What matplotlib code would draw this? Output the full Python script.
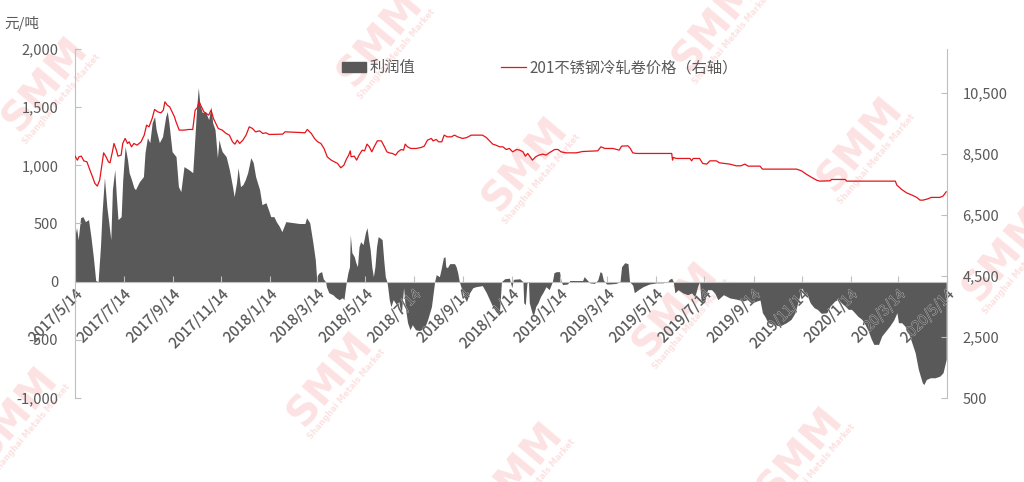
import matplotlib
matplotlib.use("Agg")
import matplotlib.pyplot as plt
import matplotlib.patches as mpatches
import matplotlib.lines as mlines
import matplotlib.patheffects as pe
import pandas as pd

plt.rcParams["font.family"] = ["Noto Sans CJK SC", "DejaVu Sans"]
plt.rcParams["axes.unicode_minus"] = False

# ── 数据（从图上读取，天数 = 距 2017/5/14 的天数）─────────────────────────
START = pd.Timestamp("2017-05-14")

profit_days = [
    0, 2, 4, 7, 10, 13, 17, 20, 23, 26, 29, 32, 34, 37, 40, 42, 45, 47, 50, 52,
    54, 58, 60, 63, 66, 68, 71, 74, 76, 81, 86, 88, 91, 94, 97, 100, 102, 106, 110, 114,
    116, 118, 122, 127, 130, 133, 137, 143, 148, 150, 153, 155, 157, 160, 164, 168, 171, 173, 176, 179,
    181, 183, 185, 190, 194, 198, 200, 203, 205, 208, 211, 214, 217, 221, 224, 227, 232, 235, 240, 244,
    246, 250, 253, 257, 260, 265, 282, 289, 291, 295, 299, 302, 304, 305, 307, 310, 312, 315, 316, 319,
    324, 328, 332, 336, 338, 341, 343, 345, 346, 348, 351, 353, 355, 357, 359, 362, 365, 367, 369, 371,
    373, 375, 377, 379, 381, 383, 386, 388, 390, 392, 393, 395, 397, 400, 404, 407, 410, 413, 415, 418,
    421, 424, 428, 433, 439, 443, 448, 452, 454, 458, 460, 463, 465, 466, 468, 471, 477, 479, 481, 483,
    485, 489, 492, 496, 500, 504, 512, 517, 521, 525, 529, 533, 534, 536, 540, 546, 549, 551, 559, 563,
    564, 566, 568, 570, 571, 574, 576, 579, 582, 585, 588, 592, 596, 600, 602, 605, 609, 611, 613, 619,
    622, 638, 640, 643, 647, 653, 657, 660, 662, 664, 668, 672, 680, 685, 687, 691, 695, 697, 701, 703,
    708, 714, 722, 731, 739, 745, 747, 750, 752, 754, 758, 764, 770, 775, 779, 783, 785, 787, 791, 795,
    800, 804, 808, 815, 823, 831, 840, 846, 852, 857, 861, 864, 867, 871, 877, 886, 894, 900, 905, 909,
    912, 914, 917, 919, 924, 929, 933, 938, 945, 949, 955, 959, 963, 968, 972, 976, 980, 984, 989, 993,
    997, 1001, 1004, 1010, 1014, 1019, 1024, 1029, 1033, 1035, 1039, 1043, 1049, 1056, 1060, 1065, 1067, 1070, 1075, 1081,
    1087, 1091, 1095,
]
profit_vals = [
    400, 464, 361, 550, 559, 516, 533, 387, 215, 10, 0, 301, 593, 894, 645, 533, 361, 791, 963, 731,
    533, 559, 877, 1161, 1049, 937, 877, 808, 791, 860, 903, 1109, 1238, 1195, 1367, 1419, 1307, 1195, 1247, 1419,
    1462, 1367, 1118, 1075, 817, 774, 989, 963, 937, 1161, 1505, 1668, 1522, 1453, 1462, 1393, 1505, 1367, 1307, 1066,
    1221, 1161, 1118, 1075, 963, 817, 731, 851, 980, 817, 834, 877, 937, 1066, 1023, 903, 791, 662, 679, 602,
    559, 559, 516, 473, 430, 516, 500, 500, 550, 507, 335, 189, 0, 60, 77, 86, 25, 0, -43, -95,
    -112, -138, -155, -138, -155, 0, 77, 129, 404, 249, 215, 163, 129, 301, 344, 318, 421, 464, 361, 275,
    129, 43, 129, 301, 387, 378, 361, 189, 43, 0, -43, -155, -215, -155, -198, -172, -284, -52, -215, -353,
    -413, -370, -413, -420, -400, -330, -215, 0, 60, 43, 103, 206, 215, 129, 120, 155, 155, 129, 77, 0,
    -43, -129, -172, -95, -52, -43, -34, -95, -155, -215, -258, -284, -215, 0, 25, 30, -52, 20, 25, 0,
    -181, -198, -12, 0, -181, -258, -301, -215, -181, -129, -95, -43, -69, 0, 77, 86, 86, 0, -25, -20,
    10, 10, 43, 20, -10, -15, 15, 86, 77, 15, -20, -20, -15, 0, 129, 163, 155, 0, -30, -95,
    -69, -43, -20, -10, -10, 0, 20, 30, 0, -97, -69, -97, -112, -97, -129, -30, 0, -172, -181, -69,
    -69, -97, -155, -112, -140, -150, -166, -152, -181, -166, -158, -267, -298, -353, -367, -381, -353, -324, -267, -166,
    -95, -52, -123, -95, -181, -224, -238, -272, -267, -210, -166, -152, -181, -210, -238, -238, -267, -298, -324, -367,
    -424, -496, -539, -539, -467, -424, -381, -330, -267, -353, -353, -381, -467, -611, -754, -869, -884, -841, -826, -826,
    -812, -783, -668,
]

price_days = [
    0, 3, 5, 8, 11, 15, 18, 22, 25, 28, 31, 34, 36, 39, 42, 44, 47, 49, 52, 54,
    58, 60, 63, 66, 68, 71, 74, 78, 83, 87, 90, 93, 97, 100, 104, 108, 111, 113, 116, 119,
    122, 125, 127, 131, 137, 143, 148, 151, 154, 156, 159, 162, 168, 171, 174, 177, 180, 185, 190, 194,
    198, 201, 204, 207, 211, 215, 219, 223, 227, 232, 236, 240, 244, 261, 264, 282, 289, 292, 297, 301,
    305, 309, 313, 317, 322, 326, 330, 334, 338, 341, 344, 346, 347, 351, 354, 357, 361, 364, 367, 370,
    373, 376, 380, 385, 389, 392, 395, 399, 403, 406, 410, 413, 415, 418, 422, 429, 435, 439, 443, 448,
    450, 454, 457, 461, 464, 468, 473, 477, 481, 487, 492, 498, 512, 517, 521, 525, 529, 534, 538, 542,
    546, 550, 555, 559, 563, 566, 569, 572, 575, 579, 583, 588, 592, 596, 603, 607, 611, 617, 630, 638,
    657, 661, 666, 676, 684, 687, 695, 698, 701, 706, 750, 751, 752, 756, 773, 775, 777, 785, 789, 794,
    798, 806, 810, 823, 831, 837, 842, 846, 861, 864, 907, 913, 919, 926, 932, 936, 949, 951, 968, 970,
    1031, 1033, 1039, 1045, 1052, 1058, 1062, 1066, 1072, 1076, 1087, 1091, 1095,
]
price_vals = [
    8435, 8304, 8413, 8435, 8281, 8248, 8032, 7757, 7540, 7452, 7648, 8195, 8543, 8413, 8248, 8216, 8576, 8851, 8632, 8435,
    8468, 8851, 9016, 8851, 8905, 8740, 8851, 8796, 8905, 9124, 9452, 9396, 9671, 9966, 9888, 9855, 9944, 10216, 10107, 10052,
    9888, 9724, 9560, 9288, 9288, 9310, 9310, 9944, 10032, 10216, 10052, 9888, 9780, 9944, 9671, 9507, 9343, 9288, 9179, 9124,
    8905, 8829, 8960, 8851, 8960, 9124, 9396, 9343, 9232, 9265, 9179, 9200, 9146, 9157, 9232, 9212, 9200, 9310, 9179, 9016,
    8905, 8851, 8687, 8413, 8304, 8248, 8195, 8052, 8140, 8327, 8468, 8609, 8413, 8435, 8304, 8468, 8632, 8609, 8829, 8740,
    8576, 8740, 8937, 8937, 8740, 8576, 8543, 8523, 8468, 8576, 8653, 8632, 8829, 8740, 8687, 8687, 8718, 8763, 8960, 9016,
    8937, 8982, 8905, 8905, 9124, 9068, 9068, 9124, 9068, 9016, 9040, 9124, 9124, 9046, 8937, 8829, 8796, 8740, 8740, 8653,
    8687, 8576, 8653, 8632, 8576, 8435, 8523, 8413, 8304, 8413, 8468, 8501, 8468, 8543, 8653, 8653, 8576, 8543, 8543, 8587,
    8609, 8740, 8687, 8687, 8632, 8763, 8773, 8687, 8543, 8523, 8523, 8304, 8391, 8359, 8359, 8281, 8359, 8359, 8195, 8173,
    8281, 8281, 8216, 8173, 8118, 8118, 8173, 8107, 8107, 8009, 8009, 7954, 7845, 7736, 7648, 7615, 7626, 7670, 7670, 7615,
    7615, 7484, 7343, 7233, 7157, 7081, 6992, 6992, 7035, 7081, 7081, 7124, 7265,
]

left_ticks = [-1000, -500, 0, 500, 1000, 1500, 2000]
right_ticks = [500, 2500, 4500, 6500, 8500, 10500]

AREA_COLOR = "#595959"
LINE_COLOR = "#E5141B"
AXIS_COLOR = "#BFBFBF"
TEXT_COLOR = "#595959"
WM_COLOR = "#FCE2E2"

profit_dates = START + pd.to_timedelta(profit_days, unit="D")
price_dates = START + pd.to_timedelta(price_days, unit="D")
tick_dates = [START + pd.DateOffset(months=2 * k) for k in range(19)]
tick_labels = [f"{d.year}/{d.month}/{d.day}" for d in tick_dates]

fig = plt.figure(figsize=(10.24, 4.82), dpi=100)

# ── 水印 ────────────────────────────────────────────────────────────────
wm_pos = [(45, 85), (380, 40), (715, 25), (525, 165), (860, 145), (330, 380),
          (15, 415), (1005, 255), (520, 470), (800, 455), (675, 310)]
for px, py in wm_pos:
    fx, fy = px / 1024, 1 - py / 482
    fig.text(fx, fy, "SMM", rotation=50, fontsize=29, fontweight="heavy",
             color=WM_COLOR, ha="center", va="center", zorder=-5,
             family="DejaVu Sans")
    fig.text(fx + 0.766 * 22 / 1024, fy - 0.643 * 22 / 482, "Shanghai Metals Market",
             rotation=50, fontsize=6, fontweight="bold", color=WM_COLOR,
             ha="center", va="center", zorder=-5, family="DejaVu Sans")

ax = fig.add_axes([75 / 1024, 1 - 398 / 482, (947 - 75) / 1024, (398 - 49) / 482])
ax.patch.set_visible(False)
ax.fill_between(profit_dates, profit_vals, 0, color=AREA_COLOR, linewidth=0, zorder=1)
ax.set_xlim(START, pd.Timestamp("2020-05-14"))
ax.set_ylim(-1000, 2000)

for s in ["top", "right"]:
    ax.spines[s].set_visible(False)
ax.spines["bottom"].set_position(("data", 0))
ax.spines["bottom"].set_color(AXIS_COLOR)
ax.spines["left"].set_color(AXIS_COLOR)
ax.spines["bottom"].set_zorder(3)
ax.tick_params(axis="both", direction="in", color=AXIS_COLOR, labelcolor=TEXT_COLOR,
               labelsize=10.5, length=4)
ax.tick_params(axis="x", pad=4)
ax.tick_params(axis="y", pad=12)

ax.set_yticks(left_ticks)
ax.set_yticklabels([f"{v:,}" for v in left_ticks])
ax.set_xticks(tick_dates)
ax.set_xticklabels(tick_labels)
# 日期标签压在面积图上方，加一圈很细的浅灰描边，深色区域里也能看见
for lbl in ax.get_xticklabels():
    lbl.set_rotation(45)
    lbl.set_ha("right")
    lbl.set_va("top")
    lbl.set_rotation_mode("anchor")
    lbl.set_path_effects([pe.Stroke(linewidth=0.5, foreground="#C4C4C4"), pe.Normal()])

ax2 = ax.twinx()
ax2.plot(price_dates, price_vals, color=LINE_COLOR, linewidth=0.9)
ax2.set_ylim(500, 11950)
for s in ["top", "left", "bottom"]:
    ax2.spines[s].set_visible(False)
ax2.spines["right"].set_color(AXIS_COLOR)
ax2.tick_params(axis="y", direction="in", color=AXIS_COLOR, labelcolor=TEXT_COLOR,
                labelsize=10.5, length=4, pad=11)
ax2.set_yticks(right_ticks)
ax2.set_yticklabels([f"{v:,}" for v in right_ticks])

# ── 图例 / 单位 ──────────────────────────────────────────────────────────
handles = [
    mpatches.Patch(color=AREA_COLOR, label="利润值"),
    mlines.Line2D([], [], color=LINE_COLOR, linewidth=0.9, label="201不锈钢冷轧卷价格（右轴）"),
]
leg = ax.legend(handles=handles, loc="center", bbox_to_anchor=(0.527, 0.859),
                bbox_transform=fig.transFigure, ncol=2, frameon=False,
                columnspacing=5.6, handlelength=1.6, handletextpad=0.25,
                fontsize=11)
for t in leg.get_texts():
    t.set_color(TEXT_COLOR)

fig.text(0.004, 0.952, "元/吨", fontsize=10.5, color=TEXT_COLOR, ha="left", va="center")

fig.savefig("out.png", dpi=100)
